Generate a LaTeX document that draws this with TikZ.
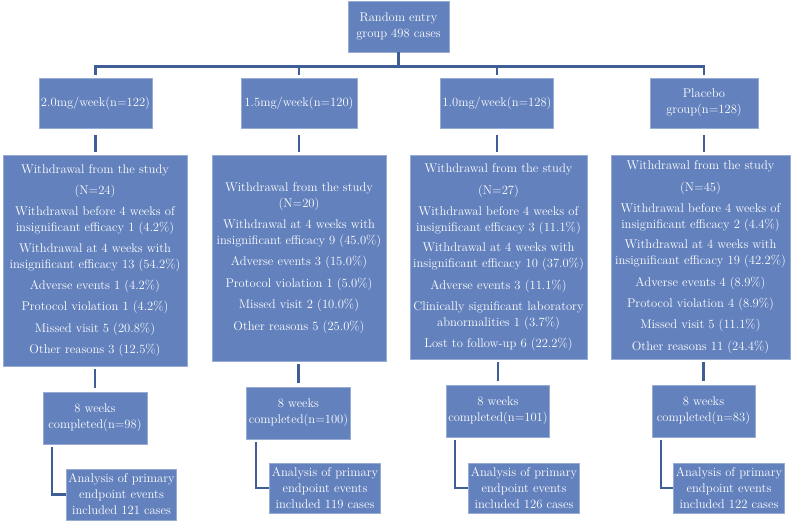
\documentclass[tikz,border=0pt]{standalone}
\usepackage{tikz}
\usetikzlibrary{positioning,calc}
\usepackage{xcolor}
\definecolor{boxfill}{RGB}{99,129,189}
\definecolor{boxedge}{RGB}{150,172,212}
\definecolor{linkblue}{RGB}{64,94,150}

\begin{document}
\begin{tikzpicture}[x=1pt,y=-1pt,
    box/.style={draw=boxedge,fill=boxfill,line width=0.8pt,text=white,align=center,
      inner sep=2pt,font=\fontsize{12.6}{16}\selectfont},
    link/.style={draw=linkblue,line width=2.2pt}]
    \useasboundingbox (0,0) rectangle (800,523);
    % randomisation
    \node[box,minimum width=101pt,minimum height=51pt] (top) at (398.5,26.5) {Random entry\\group 498 cases};
    % dose groups
    \node[box,minimum width=113pt,minimum height=50pt] (d20) at (95.5,103) {2.0mg/week(n=122)};
    \node[box,minimum width=116pt,minimum height=50pt] (d15) at (299,103) {1.5mg/week(n=120)};
    \node[box,minimum width=112pt,minimum height=50pt] (d10) at (497,103) {1.0mg/week(n=128)};
    \node[box,minimum width=108pt,minimum height=50pt] (pla) at (704,103) {Placebo\\group(n=128)};
    % withdrawals
    \node[box,minimum width=184pt,minimum height=211pt] (w20) at (95,260.5) {Withdrawal from the study\\[5.5pt]
      (N=24)\\[5pt]
      Withdrawal before 4 weeks of\\insignificant efficacy 1 (4.2\%)\\[4.5pt]
      Withdrawal at 4 weeks with\\insignificant efficacy 13 (54.2\%)\\[5.5pt]
      Adverse events 1 (4.2\%)\\[5pt]
      Protocol violation 1 (4.2\%)\\[5.5pt]
      Missed visit 5 (20.8\%)\\[5.5pt]
      Other reasons 3 (12.5\%)};
    \node[box,minimum width=174pt,minimum height=206pt] (w15) at (299,258) {Withdrawal from the study\\
      (N=20)\\[4.5pt]
      Withdrawal at 4 weeks with\\insignificant efficacy 9 (45.0\%)\\[5.5pt]
      Adverse events 3 (15.0\%)\\[5.5pt]
      Protocol violation 1 (5.0\%)\\[5.5pt]
      Missed visit 2 (10.0\%)\\[5.5pt]
      Other reasons 5 (25.0\%)};
    \node[box,minimum width=177pt,minimum height=204pt] (w10) at (498.5,257) {Withdrawal from the study\\[5.5pt]
      (N=27)\\[5pt]
      Withdrawal before 4 weeks of\\insignificant efficacy 3 (11.1\%)\\[4.5pt]
      Withdrawal at 4 weeks with\\insignificant efficacy 10 (37.0\%)\\[5.5pt]
      Adverse events 3 (11.1\%)\\[5pt]
      Clinically significant laboratory\\abnormalities 1 (3.7\%)\\[5pt]
      Lost to follow-up 6 (22.2\%)};
    \node[box,minimum width=179pt,minimum height=204pt] (wpl) at (700.5,257) {Withdrawal from the study\\[5.5pt]
      (N=45)\\[5pt]
      Withdrawal before 4 weeks of\\insignificant efficacy 2 (4.4\%)\\[4.5pt]
      Withdrawal at 4 weeks with\\insignificant efficacy 19 (42.2\%)\\[5.5pt]
      Adverse events 4 (8.9\%)\\[5pt]
      Protocol violation 4 (8.9\%)\\[5.5pt]
      Missed visit 5 (11.1\%)\\[5.5pt]
      Other reasons 11 (24.4\%)};
    % completers
    \node[box,minimum width=104pt,minimum height=52pt] (c20) at (95,418) {8 weeks\\completed(n=98)};
    \node[box,minimum width=103pt,minimum height=52pt] (c15) at (298.5,413) {8 weeks\\completed(n=100)};
    \node[box,minimum width=102pt,minimum height=52pt] (c10) at (498,411) {8 weeks\\completed(n=101)};
    \node[box,minimum width=103pt,minimum height=52pt] (cpl) at (703.5,411) {8 weeks\\completed(n=83)};
    % primary endpoint analysis
    \node[box,minimum width=103pt,minimum height=51pt] (a20) at (121.5,494.5) {Analysis of primary\\endpoint events\\included 121 cases};
    \node[box,minimum width=104pt,minimum height=50pt] (a15) at (325,488) {Analysis of primary\\endpoint events\\included 119 cases};
    \node[box,minimum width=102pt,minimum height=50pt] (a10) at (524,488) {Analysis of primary\\endpoint events\\included 126 cases};
    \node[box,minimum width=102pt,minimum height=50pt] (apl) at (729,488) {Analysis of primary\\endpoint events\\included 122 cases};

    % tree from the top box
    \draw[link] (top.south) -- ++(0,14) coordinate (bus);
    \draw[link] ([yshift=3pt]d20.north) |- (bus) -| ([yshift=3pt]pla.north);
    \foreach \n in {d15,d10}
      \draw[link] (bus -| \n.north) -- ([yshift=3pt]\n.north);
    % straight links down each arm
    \foreach \g/\w/\c in {d20/w20/c20,d15/w15/c15,d10/w10/c10,pla/wpl/cpl} {
      \draw[link,shorten <=7pt,shorten >=3pt] (\g.south) -- (\g.south |- \w.north);
      \draw[link,shorten <=3pt,shorten >=4pt] (\w.south -| \c.north) -- (\c.north);
    }
    % elbows to the analysis boxes
    \foreach \c/\a in {c20/a20,c15/a15,c10/a10,cpl/apl}
      \draw[link] ([xshift=9.5pt,yshift=-3pt]\c.south west) |- (\a.west);
  \end{tikzpicture}
\end{document}
